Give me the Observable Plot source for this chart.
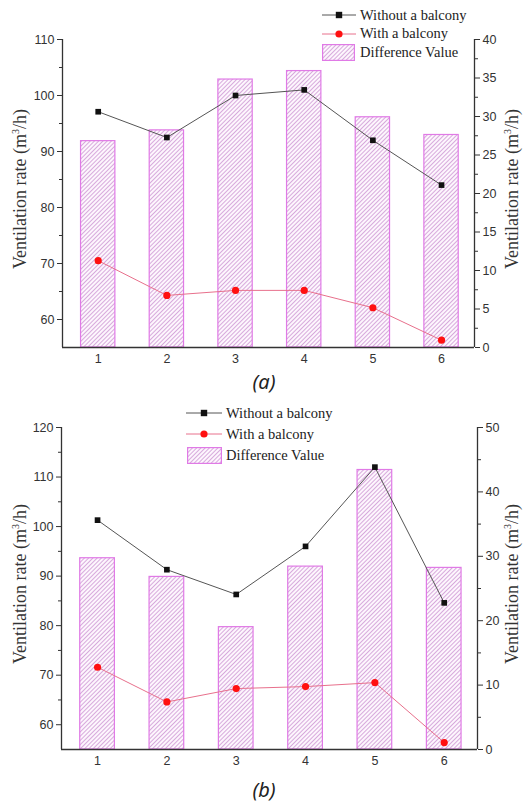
<!DOCTYPE html>
<html><head><meta charset="utf-8">
<script src="https://cdn.jsdelivr.net/npm/d3@7"></script>
<script src="https://cdn.jsdelivr.net/npm/@observablehq/plot@0.6"></script>
<style>
body{margin:0;background:#fff;}
#root{position:relative;width:527px;height:806px;overflow:hidden;background:#fff;}
.panel{position:absolute;left:0;}
.ylab{position:absolute;font-family:"Liberation Serif","Times New Roman",Times,serif;font-size:18px;color:#333;white-space:nowrap;transform:translate(-50%,-50%) rotate(-90deg);}
.cap{position:absolute;font-family:"Noto Sans",sans-serif;font-style:italic;font-size:20px;color:#222;transform:translate(-50%,-50%);}
.leg{position:absolute;font-family:"Liberation Serif","Times New Roman",Times,serif;font-size:14.5px;color:#222;white-space:nowrap;line-height:1;}
.legsym{position:absolute;}
</style></head>
<body><div id="root"></div>
<script>
// ---- data ----
const periods = [1, 2, 3, 4, 5, 6];
const seriesNames = ["Without a balcony", "With a balcony", "Difference Value"];
const aWithout = [97.1, 92.5, 100.0, 101.0, 92.0, 84.0];
const aWith    = [70.5, 64.3, 65.2, 65.2, 62.1, 56.3];
const aDiff    = [26.8, 28.2, 34.8, 35.9, 29.9, 27.6];
const bWithout = [101.3, 91.3, 86.3, 96.0, 112.0, 84.6];
const bWith    = [71.6, 64.6, 67.3, 67.7, 68.5, 56.4];
const bDiff    = [29.7, 26.8, 19.0, 28.4, 43.4, 28.2];
const aLeftTicks  = [60, 70, 80, 90, 100, 110];
const aLeftMinor  = [65, 75, 85, 95, 105];
const aRightTicks = [0, 5, 10, 15, 20, 25, 30, 35, 40];
const aRightMinor = [2.5, 7.5, 12.5, 17.5, 22.5, 27.5, 32.5, 37.5];
const bLeftTicks  = [60, 70, 80, 90, 100, 110, 120];
const bLeftMinor  = [65, 75, 85, 95, 105, 115];
const bRightTicks = [0, 10, 20, 30, 40, 50];
const bRightMinor = [5, 15, 25, 35, 45];
const yLabel = "Ventilation rate (m³/h)";

const root = document.getElementById("root");

function panel(cfg) {
  const {id, top, height, mt, mb, ml, mr, yDomain, rDomain, leftTicks, leftMinor,
         rightTicks, rightMinor, without, withB, diff, leg, caption, capY} = cfg;
  const k = (yDomain[1] - yDomain[0]) / (rDomain[1] - rDomain[0]);
  const toL = v => yDomain[0] + (v - rDomain[0]) * k;
  const fromL = y => rDomain[0] + (y - yDomain[0]) / k;
  const rows = periods.map((p, i) => ({p, wo: without[i], w: withB[i], d: diff[i]}));
  const xDomain = [0.48, 6.48];
  const axisColor = "#333";
  const chart = Plot.plot({
    width: 527, height,
    marginTop: mt, marginBottom: mb, marginLeft: ml, marginRight: mr,
    style: {fontFamily: "'Liberation Sans', Arial, sans-serif", fontSize: "12.5px", color: "#333", background: "transparent", overflow: "visible"},
    x: {domain: xDomain},
    y: {domain: yDomain},
    marks: [
      Plot.rect(rows, {x1: d => d.p - 0.25, x2: d => d.p + 0.25, y1: d => yDomain[0], y2: d => toL(d.d),
        fill: `url(#hatch-${id})`, stroke: "#e07ae6", strokeWidth: 1.2}),
      Plot.line(rows, {x: "p", y: "wo", stroke: "#555", strokeWidth: 1}),
      Plot.line(rows, {x: "p", y: "w", stroke: "#e8708c", strokeWidth: 1}),
      Plot.dot(rows, {x: "p", y: "wo", symbol: "square", r: 3.2, fill: "#111", stroke: "none"}),
      Plot.dot(rows, {x: "p", y: "w", r: 3.6, fill: "#ff1010", stroke: "none"}),
      Plot.ruleY([yDomain[0]], {stroke: axisColor, strokeWidth: 1.3}),
      Plot.ruleX(xDomain, {stroke: axisColor, strokeWidth: 1.3}),
      Plot.axisY({anchor: "left", ticks: leftTicks, tickSize: 5, tickPadding: 3, label: null, stroke: axisColor}),
      Plot.axisY({anchor: "left", ticks: leftMinor, tickSize: 3, tickFormat: () => "", label: null, stroke: axisColor}),
      Plot.axisY({anchor: "right", ticks: rightTicks.map(toL), tickFormat: y => String(Math.round(fromL(y))), tickSize: 5, tickPadding: 3, label: null, stroke: axisColor}),
      Plot.axisY({anchor: "right", ticks: rightMinor.map(toL), tickSize: 3, tickFormat: () => "", label: null, stroke: axisColor}),
      Plot.axisX({ticks: periods, tickSize: 0, tickPadding: 7, tickFormat: d => String(d), label: null})
    ]
  });
  d3.select(chart).insert("defs", ":first-child").html(
    `<pattern id="hatch-${id}" patternUnits="userSpaceOnUse" width="3" height="3" patternTransform="rotate(45)">
       <rect width="3" height="3" fill="#fdf6fd"/>
       <line x1="1.5" y1="0" x2="1.5" y2="3" stroke="#d2a2d8" stroke-width="0.9"/>
     </pattern>`);
  const wrap = document.createElement("div");
  wrap.className = "panel";
  wrap.style.top = top + "px";
  wrap.appendChild(chart);
  root.appendChild(wrap);

  // axis titles
  const cy = top + mt + (height - mt - mb) / 2 - 4;
  for (const x of [20, 512]) {
    const d = document.createElement("div");
    d.className = "ylab";
    d.style.left = x + "px"; d.style.top = cy + "px";
    d.innerHTML = yLabel.replace("³", "<sup style='font-size:10px'>3</sup>");
    root.appendChild(d);
  }
  // legend
  const symW = leg.lineX1 - leg.lineX0;
  const rowsY = leg.rows;
  const s1 = `<svg class="legsym" style="left:${leg.lineX0}px;top:${rowsY[0]-5}px" width="${symW}" height="10"><line x1="0" y1="5" x2="${symW}" y2="5" stroke="#555"/><rect x="${symW/2-3.2}" y="1.8" width="6.4" height="6.4" fill="#111"/></svg>`;
  const s2 = `<svg class="legsym" style="left:${leg.lineX0}px;top:${rowsY[1]-5}px" width="${symW}" height="10"><line x1="0" y1="5" x2="${symW}" y2="5" stroke="#e8708c"/><circle cx="${symW/2}" cy="5" r="3.6" fill="#ff1010"/></svg>`;
  const s3 = `<svg class="legsym" style="left:${leg.boxX}px;top:${rowsY[2]-8.5}px" width="${leg.boxW}" height="17"><defs><pattern id="lh-${id}" patternUnits="userSpaceOnUse" width="3" height="3" patternTransform="rotate(45)"><rect width="3" height="3" fill="#fdf6fd"/><line x1="1.5" y1="0" x2="1.5" y2="3" stroke="#d2a2d8" stroke-width="0.9"/></pattern></defs><rect x="0.6" y="0.6" width="${leg.boxW-1.2}" height="15.8" fill="url(#lh-${id})" stroke="#e07ae6" stroke-width="1.2"/></svg>`;
  root.insertAdjacentHTML("beforeend", s1 + s2 + s3);
  seriesNames.forEach((name, i) => {
    const t = document.createElement("div");
    t.className = "leg";
    t.textContent = name;
    t.style.left = leg.textX + "px";
    t.style.top = (rowsY[i] - 7.5) + "px";
    root.appendChild(t);
  });
  const c = document.createElement("div");
  c.className = "cap";
  c.textContent = caption;
  c.style.left = "264px"; c.style.top = capY + "px";
  root.appendChild(c);
}

panel({id: "a", top: 0, height: 372, mt: 39, mb: 25, ml: 62, mr: 53,
  yDomain: [55, 110], rDomain: [0, 40], leftTicks: aLeftTicks, leftMinor: aLeftMinor,
  rightTicks: aRightTicks, rightMinor: aRightMinor, without: aWithout, withB: aWith, diff: aDiff,
  leg: {lineX0: 322, lineX1: 356, textX: 360, boxX: 322, boxW: 33, rows: [15, 33.5, 52.5]},
  caption: "(a)", capY: 381});

panel({id: "b", top: 390, height: 385, mt: 37, mb: 26, ml: 61, mr: 50,
  yDomain: [55, 120], rDomain: [0, 50], leftTicks: bLeftTicks, leftMinor: bLeftMinor,
  rightTicks: bRightTicks, rightMinor: bRightMinor, without: bWithout, withB: bWith, diff: bDiff,
  leg: {lineX0: 186, lineX1: 222, textX: 226, boxX: 187, boxW: 35, rows: [413, 434, 455]},
  caption: "(b)", capY: 789});
</script>
</body></html>
